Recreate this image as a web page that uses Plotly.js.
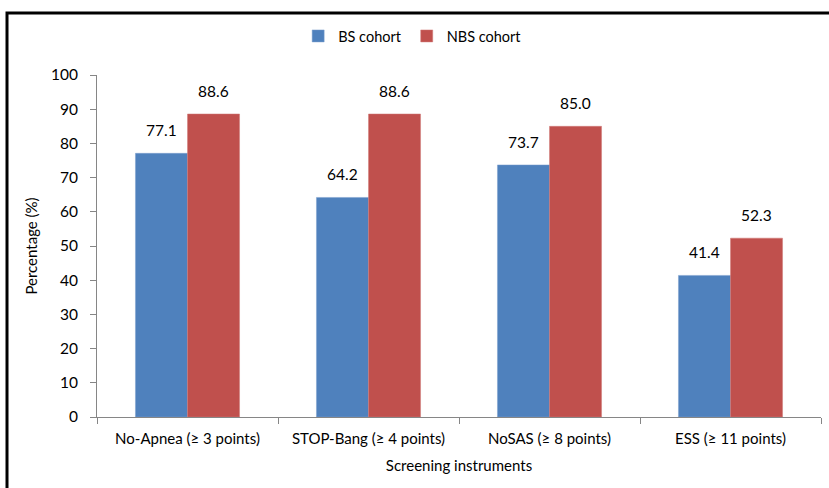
<!DOCTYPE html>
<html><head><meta charset="utf-8">
<script src="https://cdn.plot.ly/plotly-3.0.1.min.js"></script>
<style>html,body{margin:0;padding:0;background:#fff}#chart{width:829px;height:488px}</style>
</head><body><div id="chart"></div>
<script>
const categories = ["No-Apnea (≥ 3 points)", "STOP-Bang (≥ 4 points)", "NoSAS (≥ 8 points)", "ESS (≥ 11 points)"];
const bsCohort = [77.1, 64.2, 73.7, 41.4];
const nbsCohort = [88.6, 88.6, 85.0, 52.3];
const yTicks = [0, 10, 20, 30, 40, 50, 60, 70, 80, 90, 100];

const FONT = "Lato, 'Open Sans', sans-serif";
const traces = [
  {type: "bar", name: "BS cohort", x: categories, y: bsCohort,
   marker: {color: "#4F81BD", line: {color: "#7C9FCC", width: 0.5}}},
  {type: "bar", name: "NBS cohort", x: categories, y: nbsCohort,
   marker: {color: "#C0504D", line: {color: "#D07B79", width: 0.5}}}
];
const annotations = [];
categories.forEach((c, i) => {
  annotations.push({x: c, y: bsCohort[i], text: bsCohort[i].toFixed(1), showarrow: false,
    xref: "x", yref: "y", xshift: -26, yanchor: "bottom", yshift: 12,
    font: {family: FONT, size: 15.5, color: "#000"}});
  annotations.push({x: c, y: nbsCohort[i], text: nbsCohort[i].toFixed(1), showarrow: false,
    xref: "x", yref: "y", xshift: 26, yanchor: "bottom", yshift: 12,
    font: {family: FONT, size: 15.5, color: "#000"}});
});
const layout = {
  width: 829, height: 488,
  margin: {l: 97, r: 8, t: 75, b: 71},
  paper_bgcolor: "#fff", plot_bgcolor: "#fff",
  font: {family: FONT, size: 14, color: "#000"},
  barmode: "group", bargap: 0.425, bargroupgap: 0,
  showlegend: true,
  legend: {orientation: "h", x: 0.436, xanchor: "center", y: 1.114, yanchor: "middle",
    font: {family: FONT, size: 14.5}, itemwidth: 30, traceorder: "normal"},
  xaxis: {type: "category", tickson: "boundaries", ticks: "outside", ticklen: 6,
    tickcolor: "#868686", showline: true, linecolor: "#868686", linewidth: 1,
    showgrid: false, zeroline: false, tickfont: {family: FONT, size: 15}, ticklabelstandoff: 8,
    title: {text: "Screening instruments", font: {family: FONT, size: 15}, standoff: 14}},
  yaxis: {range: [0, 100], tickvals: yTicks, ticks: "outside", ticklen: 6,
    tickcolor: "#868686", showline: true, linecolor: "#868686", linewidth: 1,
    showgrid: false, zeroline: false, tickfont: {family: FONT, size: 15.5}, ticklabelstandoff: 9,
    title: {text: "Percentage (%)", font: {family: FONT, size: 15}, standoff: 9}},
  annotations: annotations,
  shapes: [{type: "rect", xref: "paper", yref: "paper", x0: -0.1243, x1: 1.03, y0: -0.25, y1: 1.181,
    line: {color: "#000", width: 3}, fillcolor: "rgba(0,0,0,0)", layer: "above"}]
};
Plotly.newPlot("chart", traces, layout, {displayModeBar: false, staticPlot: true});
</script></body></html>
